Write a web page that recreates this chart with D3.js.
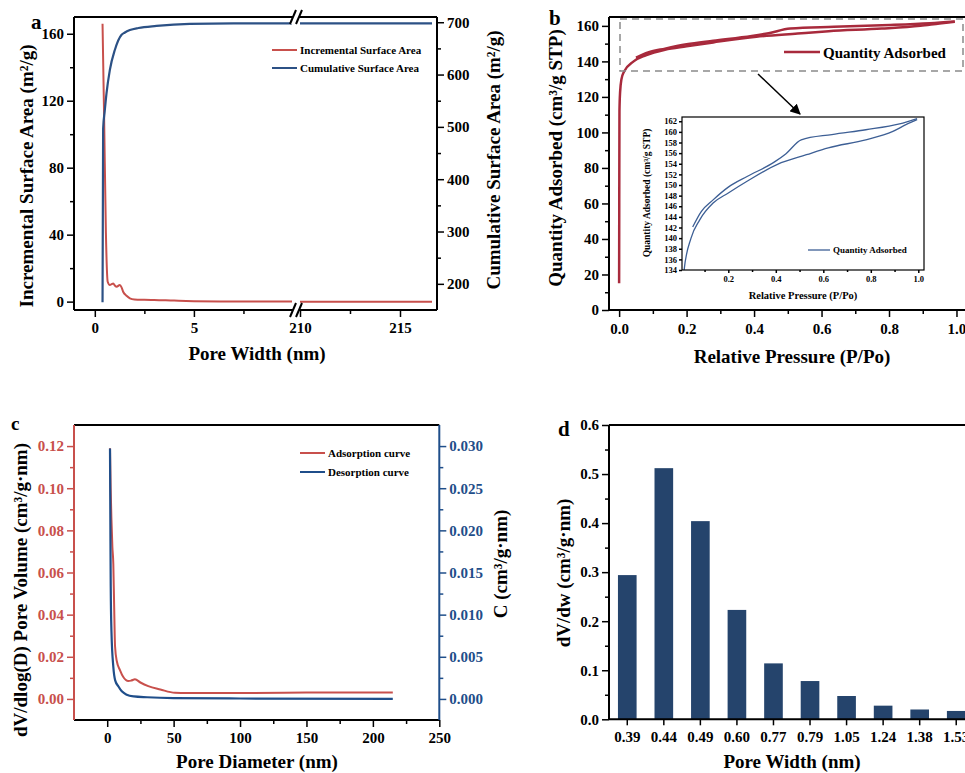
<!doctype html>
<html>
<head>
<meta charset="utf-8">
<script src="https://d3js.org/d3.v7.min.js"></script>
<style>
  body { margin: 0; background: #fff; }
  svg text { font-family: "Liberation Serif", "Times New Roman", serif; font-weight: bold; }
</style>
</head>
<body>
<svg id="fig" width="965" height="773"></svg>
<script>
// ---------- panel a : surface area vs pore width (broken x axis)
const incWidth = [0.39, 0.47, 0.56, 0.65, 0.76, 0.85, 0.93, 1.02, 1.1, 1.26, 1.35, 1.43, 1.6, 1.77, 2.0, 2.5, 3.0, 4.0, 5.0, 7.0, 10, 210, 213, 216.6];
const incArea  = [166, 110, 41, 11.9, 9.9, 10.5, 10.9, 9.5, 8.9, 9.9, 8.5, 5.9, 3.5, 2.0, 1.3, 1.1, 1.0, 0.6, 0.3, 0.1, 0.02, 0, 0, 0];
const cumWidth = [0.39, 0.42, 0.5, 0.59, 0.76, 1.01, 1.35, 1.5, 1.77, 2.2, 3.11, 4.79, 7, 10, 210, 213, 216.6];
const cumArea  = [165, 497, 530, 564, 609, 647, 676, 680, 685, 689, 693, 697, 698, 698, 698, 698, 698];

// ---------- panel b : N2 isotherm
const adsP = [0, 0.0004, 0.001, 0.003, 0.007, 0.014, 0.043, 0.079, 0.136, 0.2, 0.279, 0.407, 0.529, 0.621, 0.779, 0.893, 0.95, 0.995];
const adsQ = [15, 60, 112, 123, 130, 134, 140, 143.4, 146.6, 148.5, 150.7, 153.9, 155.7, 157, 158.5, 160.1, 161.4, 162.3];
const desP = [0.05, 0.086, 0.136, 0.2, 0.279, 0.393, 0.443, 0.507, 0.636, 0.779, 0.921, 0.995];
const desQ = [142.1, 145, 147.2, 149.6, 151.6, 154.3, 155.9, 158.5, 159.5, 160.4, 161.5, 162.5];

// ---------- panel c : BJH distribution
const adsD = [2.1, 2.6, 3.2, 3.9, 4.6, 5.2, 5.9, 7.2, 9.6, 12, 15.9, 18, 20.9, 25, 30.9, 40, 51, 60, 100, 150, 215];
const adsV = [0.119, 0.1, 0.085, 0.072, 0.064, 0.045, 0.025, 0.018, 0.0137, 0.0105, 0.0085, 0.0087, 0.0093, 0.0078, 0.0061, 0.0045, 0.0029, 0.0028, 0.0028, 0.003, 0.0031];
const desD = [2.1, 2.4, 2.65, 3.2, 4.6, 6, 8.35, 11, 14.7, 20, 30, 50, 100, 215];
const desV = [0.0297, 0.02, 0.0133, 0.008, 0.0038, 0.0022, 0.0015, 0.0009, 0.0005, 0.0003, 0.0002, 0.0001, 0.00005, 0];

// ---------- panel d : micropore distribution
const poreCats = ['0.39', '0.44', '0.49', '0.60', '0.77', '0.79', '1.05', '1.24', '1.38', '1.53'];
const poreVals = [0.294, 0.512, 0.404, 0.223, 0.114, 0.078, 0.0475, 0.0278, 0.020, 0.017];

const svg = d3.select('#fig');
const zip = (a, b) => a.map((v, i) => [v, b[i]]);

function addAxis(parent, gen, x, y, color, size) {
    const g = parent.append('g').attr('transform', `translate(${x},${y})`).call(gen);
    g.select('.domain').remove();
    g.selectAll('.tick line').attr('stroke', color).attr('stroke-width', 1.5);
    g.selectAll('.tick text').attr('fill', color).style('font-size', size + 'px');
    return g;
}
function hline(x1, x2, y, color, w) {
    svg.append('line').attr('x1', x1).attr('x2', x2).attr('y1', y).attr('y2', y)
        .attr('stroke', color).attr('stroke-width', w || 2);
}
function vline(x, y1, y2, color, w) {
    svg.append('line').attr('x1', x).attr('x2', x).attr('y1', y1).attr('y2', y2)
        .attr('stroke', color).attr('stroke-width', w || 2);
}
function label(txt, x, y, size, rot, color) {
    return svg.append('text').text(txt)
        .attr('transform', `translate(${x},${y})` + (rot ? ' rotate(-90)' : ''))
        .attr('text-anchor', 'middle').attr('dominant-baseline', 'central')
        .attr('fill', color || '#000').style('font-size', size + 'px');
}
function clip(id, x, y, w, h) {
    svg.append('clipPath').attr('id', id).append('rect')
        .attr('x', x).attr('y', y).attr('width', w).attr('height', h);
}

// ======================= panel a
{
    const L = 74, R = 437, T = 17, B = 310;
    const x1 = d3.scaleLinear().domain([-1.05, 10]).range([L, 293]);
    const x2 = d3.scaleLinear().domain([209.9, 216.85]).range([298, R]);
    const y1 = d3.scaleLinear().domain([-5, 170]).range([B, T]);
    const y2 = d3.scaleLinear().domain([150, 710]).range([B, T]);

    clip('ca1', L, T, 292 - L, B - T);
    clip('ca2', 300, T, R - 300, B - T);

    const red = '#c8504c', blue = '#2c5185';
    [[x1, 'ca1'], [x2, 'ca2']].forEach(([xs, cid]) => {
        const g = svg.append('g').attr('clip-path', `url(#${cid})`);
        g.append('path').datum(zip(incWidth, incArea))
            .attr('d', d3.line().x(d => xs(d[0])).y(d => y1(d[1])).curve(d3.curveMonotoneX))
            .attr('fill', 'none').attr('stroke', red).attr('stroke-width', 2);
        g.append('path').datum(zip(cumWidth, cumArea))
            .attr('d', d3.line().x(d => xs(d[0])).y(d => y2(d[1])).curve(d3.curveMonotoneX))
            .attr('fill', 'none').attr('stroke', blue).attr('stroke-width', 2.2);
    });

    const fmt = d3.format('d');
    addAxis(svg, d3.axisLeft(y1).tickValues([0, 40, 80, 120, 160]).tickSize(7).tickPadding(3), L, 0, '#000', 15);
    addAxis(svg, d3.axisLeft(y1).tickValues([20, 60, 100, 140]).tickSize(4).tickFormat(''), L, 0, '#000', 15);
    addAxis(svg, d3.axisRight(y2).tickValues([200, 300, 400, 500, 600, 700]).tickSize(7).tickPadding(3), R, 0, '#000', 15);
    addAxis(svg, d3.axisRight(y2).tickValues([250, 350, 450, 550, 650]).tickSize(4).tickFormat(''), R, 0, '#000', 15);
    addAxis(svg, d3.axisBottom(x1).tickValues([0, 5]).tickFormat(fmt).tickSize(7).tickPadding(5), 0, B, '#000', 15);
    addAxis(svg, d3.axisBottom(x1).tickValues([2.5, 7.5]).tickSize(4).tickFormat(''), 0, B, '#000', 15);
    addAxis(svg, d3.axisBottom(x2).tickValues([210, 215]).tickFormat(fmt).tickSize(7).tickPadding(5), 0, B, '#000', 15);
    addAxis(svg, d3.axisBottom(x2).tickValues([212.5]).tickSize(4).tickFormat(''), 0, B, '#000', 15);

    hline(L, R, T, '#000'); hline(L, R, B, '#000');
    vline(L, T, B, '#000'); vline(R, T, B, '#000');

    // axis break marks
    [T, B].forEach(yy => {
        svg.append('polygon')
            .attr('points', `${290},${yy + 7} ${296},${yy - 7} ${302},${yy - 7} ${296},${yy + 7}`)
            .attr('fill', '#fff');
        [290, 296].forEach(xx => {
            svg.append('line').attr('x1', xx).attr('y1', yy + 7).attr('x2', xx + 6).attr('y2', yy - 7)
                .attr('stroke', '#000').attr('stroke-width', 2);
        });
    });

    const lg = [['Incremental Surface Area', red, 50], ['Cumulative Surface Area', blue, 68]];
    lg.forEach(([t, c, yy]) => {
        hline(272, 297, yy, c, 2);
        svg.append('text').text(t).attr('x', 300).attr('y', yy).attr('dominant-baseline', 'central')
            .style('font-size', '11px');
    });

    label('Incremental Surface Area (m²/g)', 26, 176, 19, true);
    label('Cumulative Surface Area (m²/g)', 493, 160, 19, true);
    label('Pore Width (nm)', 257, 353, 19, false);
    svg.append('text').text('a').attr('x', 31).attr('y', 29).style('font-size', '21px');
}

// ======================= panel b
{
    const L = 609, T = 17, B = 310, R = 966.6;
    const x = d3.scaleLinear().domain([-0.03, 1.03]).range([L, R]);
    const y = d3.scaleLinear().domain([0, 165]).range([B, T]);
    const red = '#a82a3c';

    clip('cb', L, T, R - L, B - T);
    const g = svg.append('g').attr('clip-path', 'url(#cb)');
    const ln = d3.line().x(d => x(d[0])).y(d => y(d[1])).curve(d3.curveMonotoneX);
    g.append('path').datum(zip(adsP, adsQ)).attr('d', ln)
        .attr('fill', 'none').attr('stroke', red).attr('stroke-width', 2.5);
    g.append('path').datum(zip(desP, desQ)).attr('d', ln)
        .attr('fill', 'none').attr('stroke', red).attr('stroke-width', 2.5);

    addAxis(svg, d3.axisLeft(y).tickValues(d3.range(0, 161, 20)).tickSize(7).tickPadding(3), L, 0, '#000', 15);
    addAxis(svg, d3.axisLeft(y).tickValues(d3.range(10, 161, 20)).tickSize(4).tickFormat(''), L, 0, '#000', 15);
    addAxis(svg, d3.axisBottom(x).tickValues([0, 0.2, 0.4, 0.6, 0.8, 1.0]).tickFormat(d3.format('.1f')).tickSize(7).tickPadding(6), 0, B, '#000', 15);
    addAxis(svg, d3.axisBottom(x).tickValues([0.1, 0.3, 0.5, 0.7, 0.9]).tickSize(4).tickFormat(''), 0, B, '#000', 15);

    hline(L, R, T, '#000'); hline(L, R, B, '#000');
    vline(L, T, B, '#000'); vline(R, T, B, '#000');

    // zoom box + arrow
    svg.append('rect').attr('x', 620).attr('y', 19).attr('width', 343).attr('height', 52)
        .attr('fill', 'none').attr('stroke', '#8a8a8a').attr('stroke-width', 1.5).attr('stroke-dasharray', '7,5');
    svg.append('defs').append('marker').attr('id', 'arr').attr('viewBox', '0 0 10 10')
        .attr('refX', 9).attr('refY', 5).attr('markerWidth', 7).attr('markerHeight', 7).attr('orient', 'auto')
        .append('path').attr('d', 'M0,0 L10,5 L0,10 z').attr('fill', '#000');
    svg.append('line').attr('x1', 758).attr('y1', 74).attr('x2', 800).attr('y2', 114)
        .attr('stroke', '#000').attr('stroke-width', 1.5).attr('marker-end', 'url(#arr)');

    hline(784, 820, 52, red, 2.5);
    svg.append('text').text('Quantity Adsorbed').attr('x', 823).attr('y', 53).attr('dominant-baseline', 'central')
        .style('font-size', '15px');

    label('Quantity Adsorbed (cm³/g STP)', 555, 158, 19, true);
    label('Relative Pressure (P/Po)', 792, 356, 19, false);
    svg.append('text').text('b').attr('x', 549).attr('y', 25).style('font-size', '21px');

    // inset
    const iL = 682, iR = 924, iT = 117, iB = 270;
    const xi = d3.scaleLinear().domain([0.005, 1.024]).range([iL, iR]);
    const yi = d3.scaleLinear().domain([134, 162.8]).range([iB, iT]);
    const blue = '#3d5f95';
    svg.append('rect').attr('x', iL).attr('y', iT).attr('width', iR - iL).attr('height', iB - iT)
        .attr('fill', '#fff');
    clip('ci', iL, iT, iR - iL, iB - iT);
    const gi = svg.append('g').attr('clip-path', 'url(#ci)');
    const li = d3.line().x(d => xi(d[0])).y(d => yi(d[1])).curve(d3.curveMonotoneX);
    gi.append('path').datum(zip(adsP, adsQ).filter(d => d[1] >= 128)).attr('d', li)
        .attr('fill', 'none').attr('stroke', blue).attr('stroke-width', 1.3);
    gi.append('path').datum(zip(desP, desQ)).attr('d', li)
        .attr('fill', 'none').attr('stroke', blue).attr('stroke-width', 1.3);
    addAxis(svg, d3.axisLeft(yi).tickValues(d3.range(134, 163, 2)).tickSize(3).tickPadding(2), iL, 0, '#000', 8.5);
    addAxis(svg, d3.axisBottom(xi).tickValues([0.2, 0.4, 0.6, 0.8, 1.0]).tickFormat(d3.format('.1f')).tickSize(3).tickPadding(3), 0, iB, '#000', 8.5);
    addAxis(svg, d3.axisBottom(xi).tickValues([0.1, 0.3, 0.5, 0.7, 0.9]).tickSize(2).tickFormat(''), 0, iB, '#000', 8.5);
    svg.append('rect').attr('x', iL).attr('y', iT).attr('width', iR - iL).attr('height', iB - iT)
        .attr('fill', 'none').attr('stroke', '#000').attr('stroke-width', 1.2);
    hline(808, 830, 250, blue, 1.3);
    svg.append('text').text('Quantity Adsorbed').attr('x', 833).attr('y', 250).attr('dominant-baseline', 'central')
        .style('font-size', '9px');
    label('Quantity Adsorbed (cm³/g STP)', 647, 193, 9.5, true);
    label('Relative Pressure (P/Po)', 803, 295, 10.5, false);
}

// ======================= panel c
{
    const L = 74, R = 439.3, T = 425, B = 720;
    const x = d3.scaleLinear().domain([-25, 250]).range([L, R]);
    const yl = d3.scaleLinear().domain([-0.01, 0.13]).range([B, T]);
    const yr = d3.scaleLinear().domain([-0.0025, 0.0325]).range([B, T]);
    const red = '#c8504c', blue = '#1f4e8a';

    svg.append('path').datum(zip(adsD, adsV))
        .attr('d', d3.line().x(d => x(d[0])).y(d => yl(d[1])).curve(d3.curveMonotoneX))
        .attr('fill', 'none').attr('stroke', red).attr('stroke-width', 2);
    svg.append('path').datum(zip(desD, desV))
        .attr('d', d3.line().x(d => x(d[0])).y(d => yr(d[1])).curve(d3.curveMonotoneX))
        .attr('fill', 'none').attr('stroke', blue).attr('stroke-width', 2.2);

    addAxis(svg, d3.axisLeft(yl).tickValues(d3.range(0, 0.121, 0.02)).tickFormat(d3.format('.2f')).tickSize(7).tickPadding(3), L, 0, red, 15);
    addAxis(svg, d3.axisLeft(yl).tickValues(d3.range(0.01, 0.121, 0.02)).tickSize(4).tickFormat(''), L, 0, red, 15);
    addAxis(svg, d3.axisRight(yr).tickValues(d3.range(0, 0.0301, 0.005)).tickFormat(d3.format('.3f')).tickSize(7).tickPadding(3), R, 0, blue, 15);
    addAxis(svg, d3.axisRight(yr).tickValues(d3.range(0.0025, 0.0301, 0.005)).tickSize(4).tickFormat(''), R, 0, blue, 15);
    addAxis(svg, d3.axisBottom(x).tickValues(d3.range(0, 251, 50)).tickSize(7).tickPadding(5), 0, B, '#000', 15);
    addAxis(svg, d3.axisBottom(x).tickValues(d3.range(25, 226, 50)).tickSize(4).tickFormat(''), 0, B, '#000', 15);

    hline(L, R, T, '#000'); hline(L, R, B, '#000');
    vline(L, T, B, red); vline(R, T, B, blue);

    [['Adsorption curve', red, 453], ['Desorption curve', blue, 472]].forEach(([t, c, yy]) => {
        hline(300, 325, yy, c, 2);
        svg.append('text').text(t).attr('x', 328).attr('y', yy).attr('dominant-baseline', 'central')
            .style('font-size', '11px');
    });

    label('dV/dlog(D) Pore Volume (cm³/g·nm)', 20, 590, 19, true);
    label('C (cm³/g·nm)', 500, 564, 19, true);
    label('Pore Diameter (nm)', 257, 761, 19, false);
    svg.append('text').text('c').attr('x', 11).attr('y', 430).style('font-size', '19px');
}

// ======================= panel d
{
    const L = 609, T = 425, B = 719.3;
    const x = d3.scaleBand().domain(poreCats).range([L, L + 36.55 * poreCats.length])
        .paddingInner(0.49).paddingOuter(0.245);
    const y = d3.scaleLinear().domain([0, 0.6]).range([B, T]);
    const R = L + 36.55 * poreCats.length;

    svg.append('g').selectAll('rect').data(poreVals).join('rect')
        .attr('x', (d, i) => x(poreCats[i])).attr('width', x.bandwidth())
        .attr('y', d => y(d)).attr('height', d => B - y(d))
        .attr('fill', '#25446c');

    addAxis(svg, d3.axisLeft(y).tickValues(d3.range(0, 0.61, 0.1)).tickFormat(d3.format('.1f')).tickSize(7).tickPadding(3), L, 0, '#000', 15);
    addAxis(svg, d3.axisLeft(y).tickValues(d3.range(0.05, 0.6, 0.1)).tickSize(4).tickFormat(''), L, 0, '#000', 15);
    addAxis(svg, d3.axisBottom(x).tickSize(6).tickPadding(6), 0, B, '#000', 15);

    hline(L, R, T, '#000'); hline(L, R, B, '#000');
    vline(L, T, B, '#000');

    label('dV/dw (cm³/g·nm)', 563, 573, 19, true);
    label('Pore Width (nm)', 792, 761, 19, false);
    svg.append('text').text('d').attr('x', 558).attr('y', 436).style('font-size', '21px');
}
</script>
</body>
</html>
